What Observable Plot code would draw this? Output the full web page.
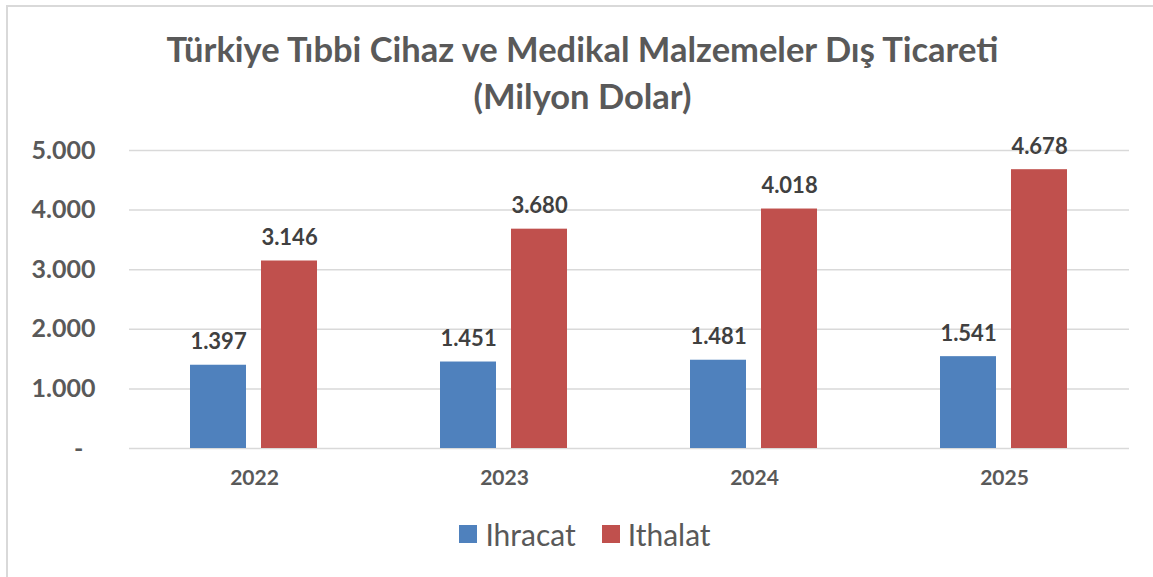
<!DOCTYPE html>
<html>
<head>
<meta charset="utf-8">
<script src="https://cdn.jsdelivr.net/npm/d3@7"></script>
<script src="https://cdn.jsdelivr.net/npm/@observablehq/plot@0.6"></script>
<style>
  html, body { margin: 0; padding: 0; background: #fff; }
  body { width: 1153px; height: 577px; position: relative; overflow: hidden; font-family: Lato, "Open Sans", sans-serif; }
  #frame { position: absolute; left: 6px; top: 5px; width: 1200px; height: 620px; border-left: 2px solid #d9d9d9; border-top: 2px solid #d9d9d9; box-sizing: border-box; }
  #title { position: absolute; left: 0; width: 1165px; top: 25px; text-align: center; font-weight: 700; font-size: 34.5px; line-height: 47px; color: #595959; }
  #chart { position: absolute; left: 0; top: 120px; }
  #legend { position: absolute; top: 516px; left: 0; width: 1170px; display: flex; justify-content: center; font-size: 30px; color: #595959; }
  .item { display: flex; align-items: center; margin: 0 13px; }
  .sw { width: 18px; height: 18px; margin-right: 8px; }
</style>
</head>
<body>
<div id="frame"></div>
<div id="title">Türkiye Tıbbi Cihaz ve Medikal Malzemeler Dış Ticareti<br>(Milyon Dolar)</div>
<div id="chart"></div>
<div id="legend"></div>
<script>
const years = ["2022", "2023", "2024", "2025"];
const seriesNames = ["Ihracat", "Ithalat"];
const ihracat = [1397, 1451, 1481, 1541];
const ithalat = [3146, 3680, 4018, 4678];
const colors = ["#4F81BD", "#C0504D"];
const yTicks = [0, 1000, 2000, 3000, 4000, 5000];

const loc = d3.formatLocale({decimal: ",", thousands: ".", grouping: [3], currency: ["", ""]});
const fmt = loc.format(",");

const data = [];
years.forEach((y, i) => {
  data.push({year: y, series: seriesNames[0], value: ihracat[i]});
  data.push({year: y, series: seriesNames[1], value: ithalat[i]});
});

const plot = Plot.plot({
  width: 1153,
  height: 380,
  marginLeft: 127,
  marginRight: 23,
  marginTop: 30,
  marginBottom: 52,
  style: {fontFamily: "Lato, 'Open Sans', sans-serif", background: "transparent", overflow: "visible"},
  fx: {domain: years, padding: 0, label: null},
  x: {domain: seriesNames, paddingInner: 0.208, paddingOuter: 0.846, axis: null},
  y: {domain: [0, 5000], ticks: yTicks, label: null},
  color: {domain: seriesNames, range: colors},
  marks: [
    Plot.gridY(yTicks, {stroke: "#d9d9d9", strokeOpacity: 1, strokeWidth: 1.5}),
    Plot.axisY(yTicks, {tickSize: 0, tickPadding: 34, tickFormat: d => d === 0 ? "-\u00a0\u00a0" : fmt(d), fontSize: 25, fontWeight: 700, fill: "#595959", label: null}),
    Plot.axisFx({anchor: "bottom", tickSize: 0, tickPadding: 22, fontSize: 21, fontWeight: 700, fill: "#595959", label: null}),
    Plot.barY(data, {fx: "year", x: "series", y: "value", fill: "series"}),
    Plot.text(data, {fx: "year", x: "series", y: "value", text: d => fmt(d.value), lineAnchor: "bottom", dy: -16, fontSize: 22, fontWeight: 700, fill: "#404040"})
  ]
});
document.getElementById("chart").appendChild(plot);

const legend = document.getElementById("legend");
seriesNames.forEach((s, i) => {
  const item = document.createElement("div");
  item.className = "item";
  const sw = document.createElement("div");
  sw.className = "sw";
  sw.style.background = colors[i];
  const t = document.createElement("span");
  t.textContent = s;
  item.appendChild(sw);
  item.appendChild(t);
  legend.appendChild(item);
});
</script>
</body>
</html>
